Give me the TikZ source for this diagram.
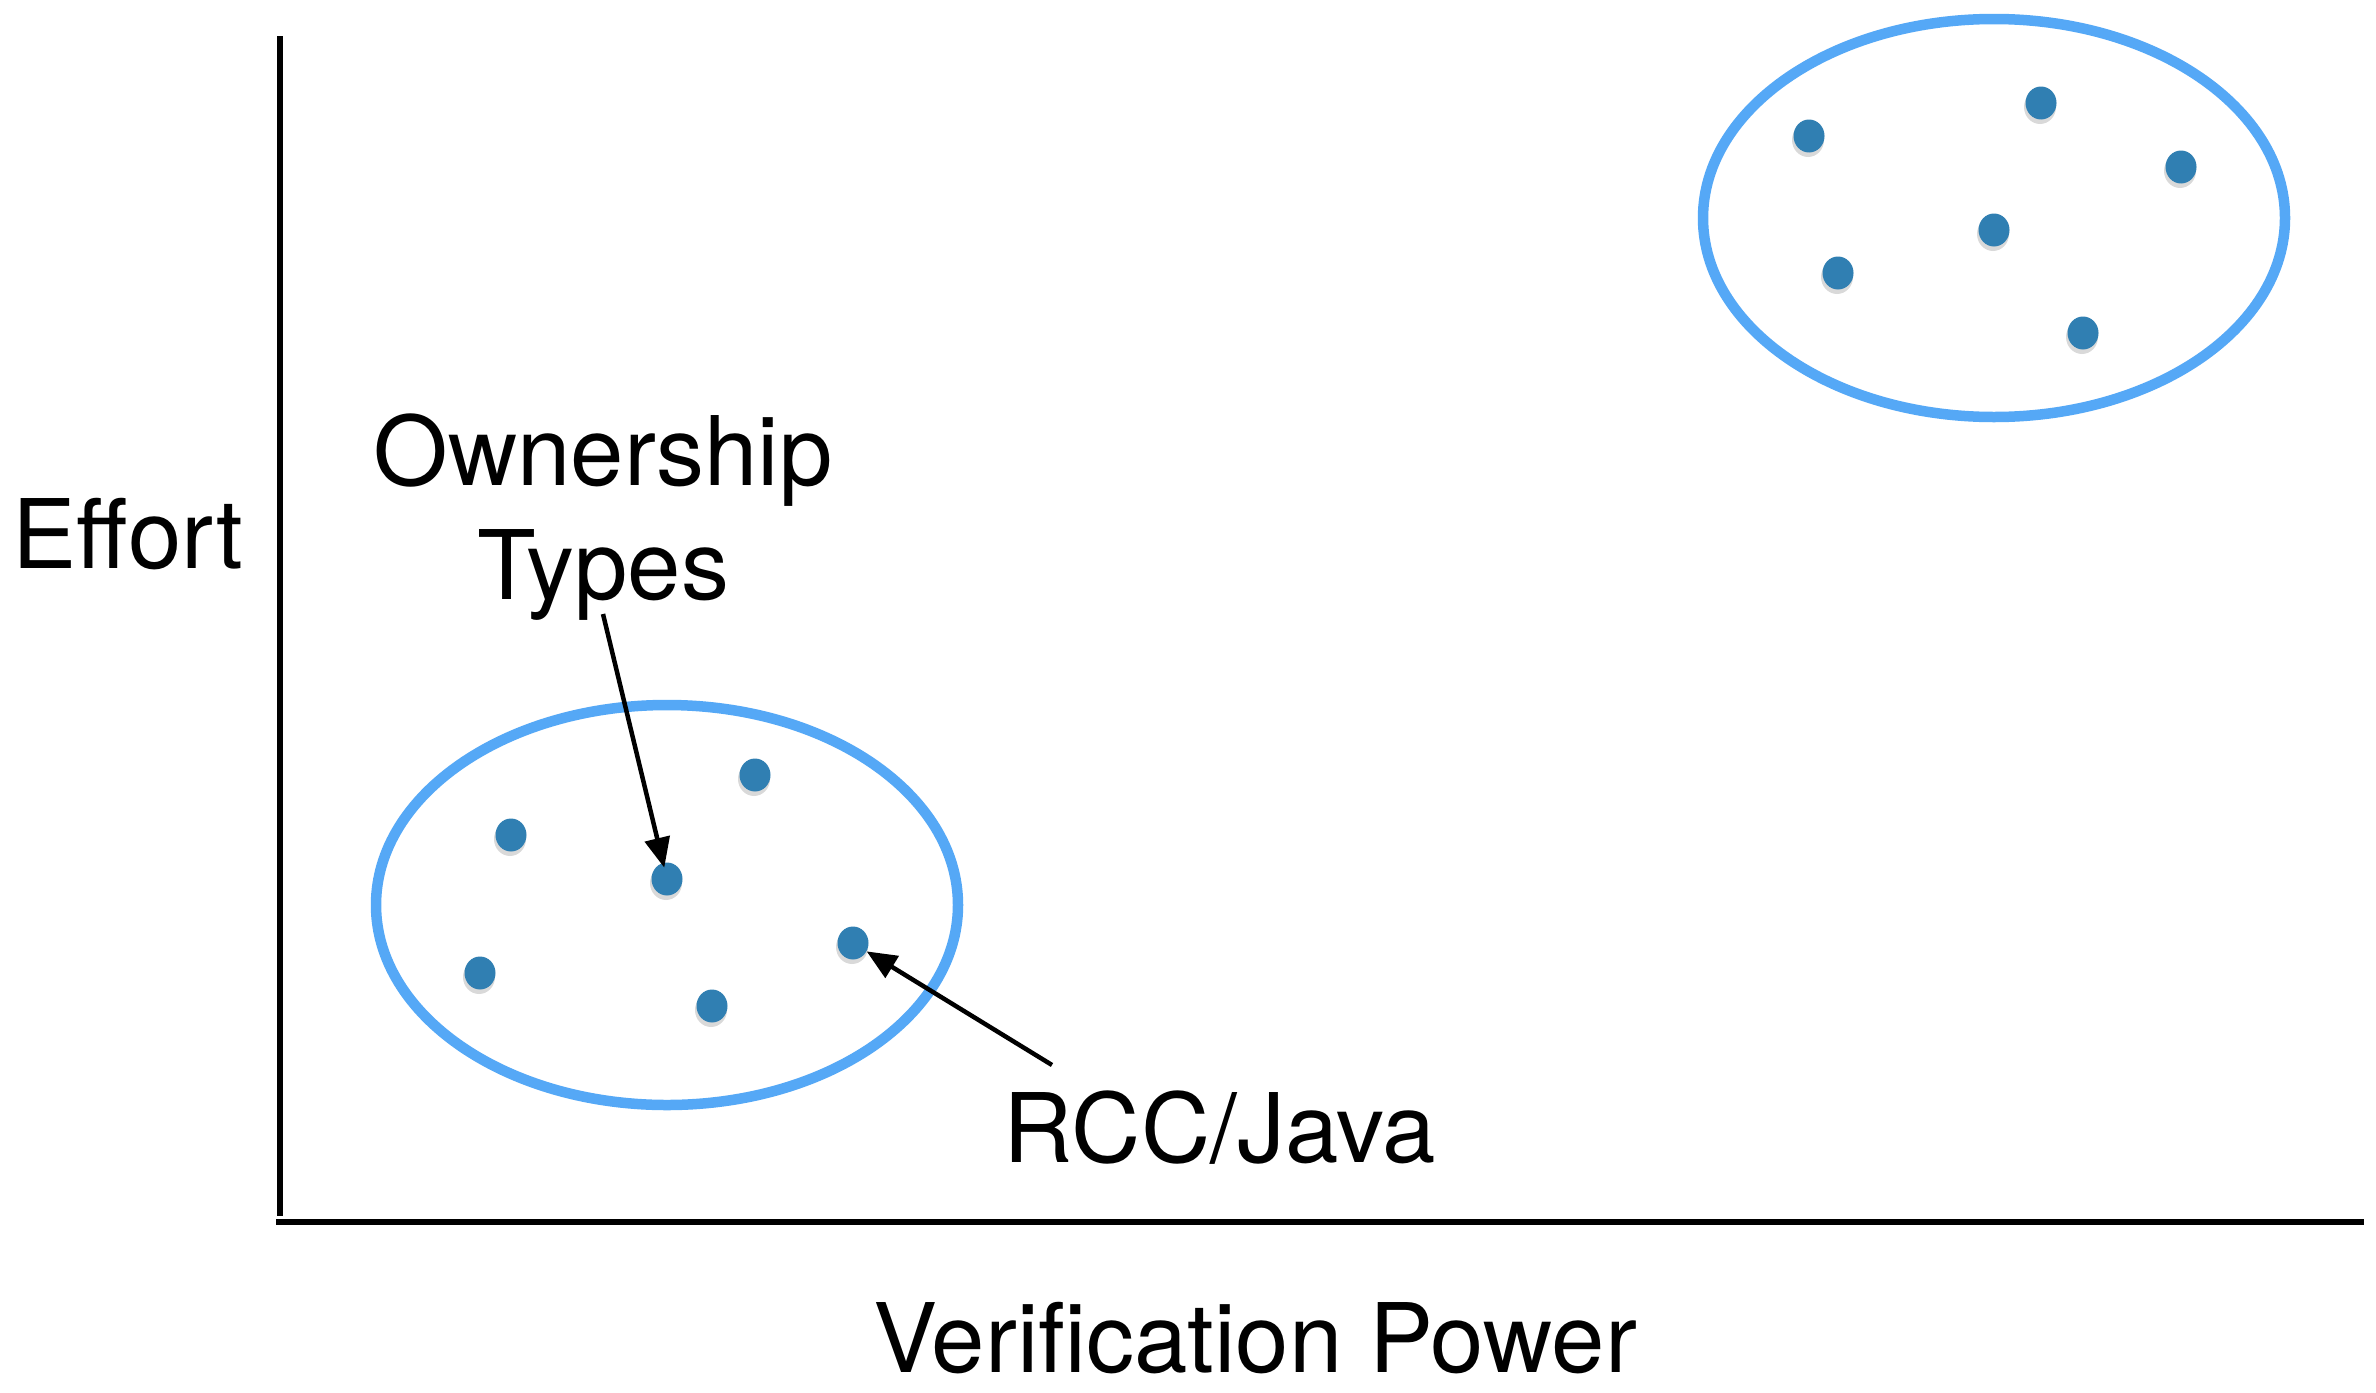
\documentclass[tikz,border=0pt]{standalone}
\usepackage{fontspec}
\setmainfont{TeX Gyre Heros}
\usetikzlibrary{arrows.meta,calc,shapes.geometric}
\definecolor{ringblue}{RGB}{85,168,246}
\definecolor{dotblue}{RGB}{48,127,178}
\tikzset{
  axis/.style={line width=5.5pt, black},
  ring/.style={draw=ringblue, line width=10.5pt},
  pt/.style={ellipse, fill=dotblue, minimum width=31pt, minimum height=33pt, inner sep=0pt},
  ptshadow/.style={fill=black, opacity=0.15},
  lbl/.style={font=\fontsize{96}{110}\selectfont, inner sep=0pt, anchor=base},
  pointer/.style={line width=4.5pt, -{Triangle[length=30pt,width=25pt]}},
}
% a data point with a soft shadow underneath
\newcommand{\plotdot}[2]{%
  \fill[ptshadow] ($(#2)+(-1,4)$) ellipse (16pt and 17pt);
  \node[pt] (#1) at (#2) {};}
\begin{document}
\begin{tikzpicture}[x=1pt,y=-1pt]
  \useasboundingbox (0,0) rectangle (2376,1392);
  \fill[white] (0,0) rectangle (2376,1392);

  % axes
  \coordinate (ytop) at (280,36);
  \coordinate (ybot) at (280,1216);
  \coordinate (xstart) at (276,1222);
  \coordinate (xend) at (2364,1222);
  \draw[axis] (ytop) -- (ybot);
  \draw[axis] (xstart) -- (xend);

  % axis labels
  \node[lbl] (effort) at (128,568) {Effort};
  \node[lbl] (vpower) at (1255,1372) {Verification Power};

  % clusters
  \draw[ring] (667,905) ellipse (291pt and 200pt);
  \draw[ring] (1994,218) ellipse (291pt and 199pt);

  % lower cluster points
  \plotdot{la}{511,835}
  \plotdot{lb}{755,775}
  \plotdot{lc}{667,879}
  \plotdot{ld}{480,973}
  \plotdot{le}{853,943}
  \plotdot{lf}{712,1006}

  % upper cluster points
  \plotdot{ua}{1809,136}
  \plotdot{ub}{2041,103}
  \plotdot{uc}{2181,167}
  \plotdot{ud}{1994,230}
  \plotdot{ue}{1838,273}
  \plotdot{uf}{2083,333}

  % annotations
  \node[lbl] (own) at (603,485) {Ownership};
  \node[lbl] (types) at (603,599) {Types};
  \node[lbl] (rcc) at (1220,1162) {RCC/Java};

  \coordinate (ownTail) at (603,614);
  \coordinate (rccTail) at (1052,1065);
  \draw[pointer, shorten >=-5pt] (ownTail) -- (lc);
  \draw[pointer] (rccTail) -- (le);
\end{tikzpicture}
\end{document}
